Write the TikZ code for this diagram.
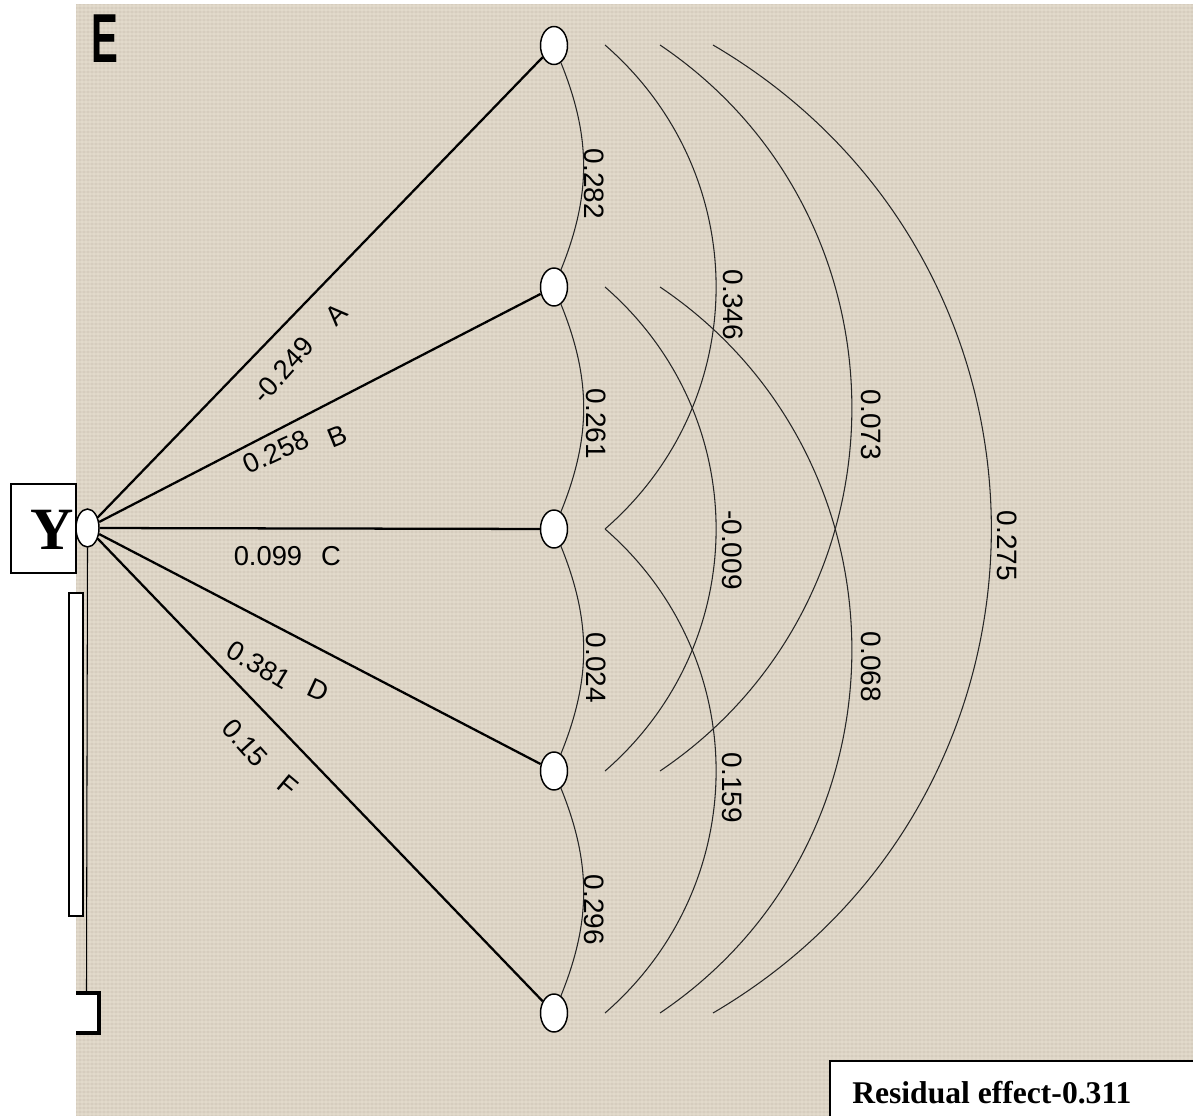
\documentclass[tikz,border=0pt]{standalone}
\usepackage{fontspec}
\setmainfont{Liberation Sans}
\newfontfamily\timesfont{Liberation Serif}
\usetikzlibrary{shapes.geometric}
\definecolor{canvas}{RGB}{214,205,190}
\definecolor{thread}{RGB}{238,232,218}
\begin{document}
\begin{tikzpicture}[x=0.75pt,y=0.75pt,
  var/.style={ellipse,draw,fill=white,line width=1.1pt,inner sep=0pt,
    minimum width=20.25pt,minimum height=28.5pt},
  yvar/.style={var,minimum width=17.25pt},
  effect/.style={line width=1.7pt},
  corr/.style={line width=0.8pt,draw=black!85},
  lbl/.style={font=\fontsize{20.5}{23}\selectfont,inner sep=0pt},
  vlbl/.style={lbl,font=\fontsize{21}{23}\selectfont,rotate=-90}]
\useasboundingbox (0,0) rectangle (1193,-1116);
\clip (0,0) rectangle (1193,-1116);

% canvas background with a faint woven texture
\fill[canvas] (76,-4) rectangle (1193,-1116);
\foreach \y in {6,10,...,1114} \draw[thread,opacity=0.35,line width=0.8pt] (76,-\y) -- (1193,-\y);
\foreach \x in {78,82,...,1191} \draw[thread,opacity=0.25,line width=0.8pt] (\x,-4) -- (\x,-1116);

% panel letter
\node[font=\bfseries\fontsize{52}{52}\selectfont,xscale=0.58,inner sep=0pt] (panel) at (104.5,-39) {E};

% variables
\node[var] (A) at (554,-45.5) {};
\node[var] (B) at (554,-287) {};
\node[var] (C) at (554,-529) {};
\node[var] (D) at (554,-771) {};
\node[var] (F) at (554,-1013) {};
\node[yvar] (Y) at (87.5,-528) {};

% Y label box and side marks
\draw[fill=white,line width=1.4pt] (11,-484) rectangle (76,-573);
\node[font=\timesfont\bfseries\fontsize{45}{45}\selectfont,inner sep=0pt] (ytext) at (52,-530) {Y};
\draw[fill=white,line width=0.8pt] (69,-593) rectangle (83,-916);
\coordinate (foot) at (86.5,-993);
\draw[line width=0.8pt] (Y.south) -- (foot);
\fill[white] (76,-993) rectangle (99,-1033);
\draw[line width=3pt] (76,-993) -- (99,-993) -- (99,-1033) -- (76,-1033);

% direct effects
\foreach \v in {A,B,C,D,F} \draw[effect] (Y) -- (\v);

% correlations between neighbouring variables
\draw[corr] (A) to[bend left=22] (B);
\draw[corr] (B) to[bend left=22] (C);
\draw[corr] (C) to[bend left=22] (D);
\draw[corr] (D) to[bend left=22] (F);

% correlations between distant variables
\coordinate (ac1) at (605,-45);  \coordinate (ac2) at (605,-529);
\coordinate (bd1) at (605,-287); \coordinate (bd2) at (605,-771);
\coordinate (cf1) at (605,-529); \coordinate (cf2) at (605,-1013);
\coordinate (ad1) at (660,-45);  \coordinate (ad2) at (660,-771);
\coordinate (bf1) at (660,-287); \coordinate (bf2) at (660,-1013);
\coordinate (af1) at (713,-45);  \coordinate (af2) at (713,-1013);
\draw[corr] (ac1) to[bend left=49,looseness=1.04] (ac2);
\draw[corr] (bd1) to[bend left=49,looseness=1.04] (bd2);
\draw[corr] (cf1) to[bend left=49,looseness=1.04] (cf2);
\draw[corr] (ad1) to[bend left=56,looseness=1.09] (ad2);
\draw[corr] (bf1) to[bend left=56,looseness=1.09] (bf2);
\draw[corr] (af1) to[bend left=59.6,looseness=1.14] (af2);

% path coefficients
\node[lbl,rotate=48] (la) at (283,-370) {-0.249};
\node[lbl,rotate=45] (lA) at (336,-314) {A};
\node[lbl,rotate=25] (lb) at (276,-452) {0.258};
\node[lbl,rotate=22] (lB) at (337,-436) {B};
\node[lbl] (lc) at (268,-556) {0.099};
\node[lbl] (lC) at (331,-556) {C};
\node[lbl,rotate=-31] (ld) at (259,-665) {0.381};
\node[lbl,rotate=-25] (lD) at (318,-690) {D};
\node[lbl,rotate=-48] (lf) at (245,-743) {0.15};
\node[lbl,rotate=-40] (lF) at (288,-786) {F};

% correlation coefficients
\node[vlbl] (rab) at (594,-184) {0.282};
\node[vlbl] (rbc) at (596,-424) {0.261};
\node[vlbl] (rcd) at (596,-668) {0.024};
\node[vlbl] (rdf) at (594,-910) {0.296};
\node[vlbl] (rac) at (733,-305) {0.346};
\node[vlbl] (rbd) at (732,-550) {-0.009};
\node[vlbl] (rcf) at (732,-788) {0.159};
\node[vlbl] (rad) at (871,-425) {0.073};
\node[vlbl] (rbf) at (871,-667) {0.068};
\node[vlbl] (raf) at (1007,-546) {0.275};

% residual effect
\fill[white] (830,-1061) rectangle (1193,-1116);
\draw[line width=1.4pt] (830,-1116) -- (830,-1061) -- (1193,-1061);
\node[font=\timesfont\bfseries\fontsize{23.7}{26}\selectfont,anchor=base west,inner sep=0pt] (resid) at (852,-1103) {Residual effect-0.311};
\end{tikzpicture}
\end{document}
